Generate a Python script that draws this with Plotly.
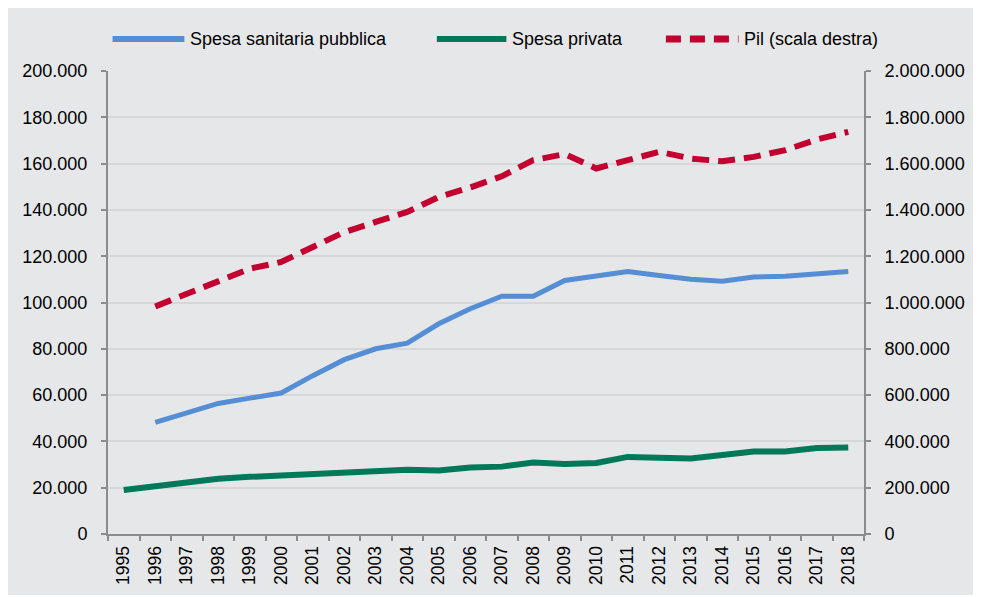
import plotly.graph_objects as go

# dati (milioni di euro)
anni = [str(a) for a in range(1995, 2019)]

spesa_pubblica = [None, 48200, 52100, 56400, 58700, 60900, 68400, 75300, 80000, 82400,
                  90800, 97300, 102700, 102700, 109500, 111700, 113400, 111700, 110000,
                  109200, 111000, 111300, 112400, 113400]

spesa_privata = [19000, 20800, 22500, 23900, 24700, 25300, 25300, 26100, 26500, 27700,
                 27400, 28700, 29100, 30900, 30200, 30700, 33300, 32900, 32600, 34100,
                 35600, 35600, 37100, 37400]

pil = [None, 983000, 1038000, 1092000, 1146000, 1175000, 1239000, 1304000, 1348000,
       1391000, 1456000, 1497000, 1545000, 1615000, 1641000, 1579000, 1615000, 1651000,
       1622000, 1610000, 1629000, 1658000, 1704000, 1737000]

nomi = ["Spesa sanitaria pubblica", "Spesa privata", "Pil (scala destra)"]

blu = "#558ED5"
verde = "#00795A"
rosso = "#C3002F"
grigio = "#E6E7E9"
font = "Liberation Sans, Arial, sans-serif"

fig = go.Figure()
fig.add_trace(go.Scatter(x=anni, y=spesa_pubblica, name=nomi[0], mode="lines",
                         line=dict(color=blu, width=5)))
fig.add_trace(go.Scatter(x=anni, y=spesa_privata, name=nomi[1], mode="lines",
                         line=dict(color=verde, width=6)))
fig.add_trace(go.Scatter(x=anni, y=pil, name=nomi[2], mode="lines", yaxis="y2",
                         line=dict(color=rosso, width=6, dash="17px,9px")))

# legenda disegnata a mano (linee lunghe come nell'originale)
leg_y = 1.069
campioni = [(0.006, 0.101, blu, "solid", 6), (0.435, 0.527, verde, "solid", 6),
            (0.738, 0.834, rosso, "15px,9px", 7)]
for (x0, x1, col, dash, w), nome in zip(campioni, nomi):
    fig.add_shape(type="line", xref="paper", yref="paper", x0=x0, x1=x1, y0=leg_y, y1=leg_y,
                  line=dict(color=col, width=w, dash=dash))
    fig.add_annotation(xref="paper", yref="paper", x=x1 + 0.005, y=leg_y, text=nome,
                       showarrow=False, xanchor="left", yanchor="middle",
                       font=dict(size=18, color="#000000", family=font))

asse = dict(showline=True, linecolor="#8C8C8C", linewidth=2, ticks="outside",
            ticklen=5, tickcolor="#8C8C8C", tickwidth=2, automargin=False,
            tickfont=dict(size=18, color="#000000", family=font))

fig.update_layout(
    width=973, height=587,
    margin=dict(l=100, r=117, t=63, b=61),
    paper_bgcolor=grigio, plot_bgcolor=grigio,
    separators=",.",
    showlegend=False,
    xaxis=dict(asse, type="category", tickson="boundaries", tickangle=-90,
               range=[-0.5, len(anni) - 0.5],
               showgrid=False, ticklabelstandoff=3, tickfont=dict(size=17.5, color="#000000", family=font)),
    yaxis=dict(asse, range=[0, 200000], dtick=20000, tickformat=",d",
               showgrid=True, gridcolor="#D6D7D9", gridwidth=2, zeroline=False,
               ticklabelstandoff=10),
    yaxis2=dict(asse, range=[0, 2000000], dtick=200000, tickformat=",d",
                overlaying="y", side="right", showgrid=False, zeroline=False,
                ticklabelstandoff=10),
)

fig.write_html("out.html")
